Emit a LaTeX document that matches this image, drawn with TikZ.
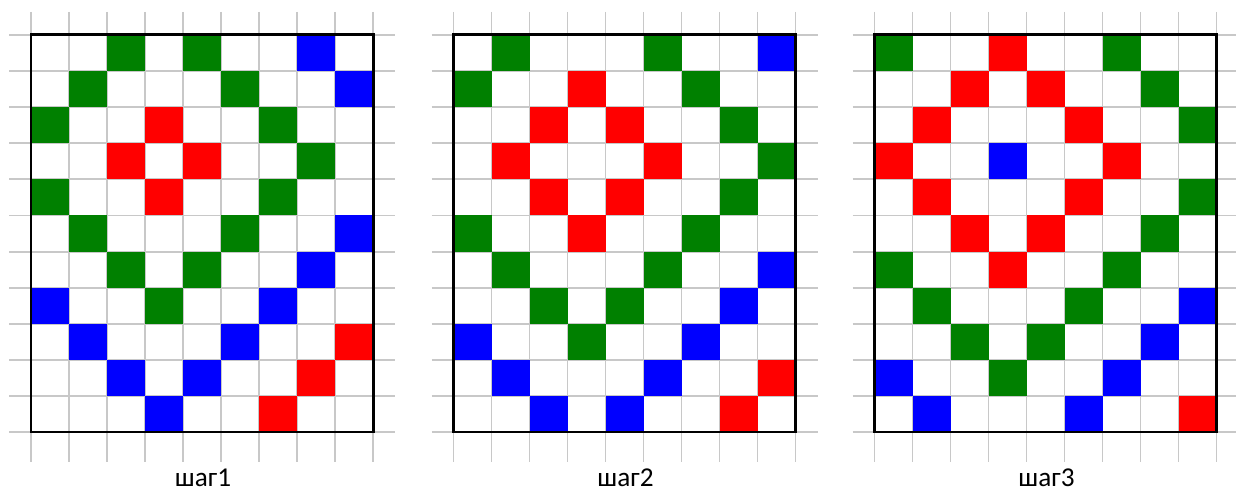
\documentclass[tikz,border=0pt]{standalone}
\usepackage{fontspec}
\setmainfont{Carlito}
\usetikzlibrary{positioning}
\definecolor{CellGreen}{HTML}{008000}
\definecolor{CellRed}{HTML}{FF0000}
\definecolor{CellBlue}{HTML}{0000FF}
\definecolor{GridGray}{HTML}{C8C8C8}

\begin{document}
\begin{tikzpicture}[
  x=0.02cm,y=-0.02cm,
  gridline/.style={draw=GridGray,line width=1.1pt},
  frame/.style={draw=black,line width=1.7pt},
  steplabel/.style={anchor=base,font=\fontsize{15.5}{18}\selectfont,inner sep=0pt,text depth=0pt},
  G/.style={fill=CellGreen},
  R/.style={fill=CellRed},
  B/.style={fill=CellBlue}
]
\useasboundingbox (0,0) rectangle (1236,492);

% step 1
\begin{scope}[shift={(31,35)}]
  \foreach \i in {0,...,9} \draw[gridline] (\i*38,-23) -- (\i*38,427);
  \foreach \j in {0,...,11} \draw[gridline] (-22,\j*36.1) -- (364,\j*36.1);
  \foreach \c/\r/\k in {2/0/G,4/0/G,7/0/B, 1/1/G,5/1/G,8/1/B, 0/2/G,3/2/R,6/2/G,
      2/3/R,4/3/R,7/3/G, 0/4/G,3/4/R,6/4/G, 1/5/G,5/5/G,8/5/B, 2/6/G,4/6/G,7/6/B,
      0/7/B,3/7/G,6/7/B, 1/8/B,5/8/B,8/8/R, 2/9/B,4/9/B,7/9/R, 3/10/B,6/10/R}
    \path[\k] (\c*38,\r*36.1) rectangle ++(38,36.1);
  \draw[frame] (0,0) rectangle (342,397);
\end{scope}
\node[steplabel] (step1) at (203,486) {шаг1};

% step 2
\begin{scope}[shift={(453.5,35)}]
  \foreach \i in {0,...,9} \draw[gridline] (\i*38,-23) -- (\i*38,427);
  \foreach \j in {0,...,11} \draw[gridline] (-22,\j*36.1) -- (364,\j*36.1);
  \foreach \c/\r/\k in {1/0/G,5/0/G,8/0/B, 0/1/G,3/1/R,6/1/G, 2/2/R,4/2/R,7/2/G,
      1/3/R,5/3/R,8/3/G, 2/4/R,4/4/R,7/4/G, 0/5/G,3/5/R,6/5/G, 1/6/G,5/6/G,8/6/B,
      2/7/G,4/7/G,7/7/B, 0/8/B,3/8/G,6/8/B, 1/9/B,5/9/B,8/9/R, 2/10/B,4/10/B,7/10/R}
    \path[\k] (\c*38,\r*36.1) rectangle ++(38,36.1);
  \draw[frame] (0,0) rectangle (342,397);
\end{scope}
\node[steplabel] (step2) at (625.5,486) {шаг2};

% step 3
\begin{scope}[shift={(874.5,35)}]
  \foreach \i in {0,...,9} \draw[gridline] (\i*38,-23) -- (\i*38,427);
  \foreach \j in {0,...,11} \draw[gridline] (-22,\j*36.1) -- (364,\j*36.1);
  \foreach \c/\r/\k in {0/0/G,3/0/R,6/0/G, 2/1/R,4/1/R,7/1/G, 1/2/R,5/2/R,8/2/G,
      0/3/R,3/3/B,6/3/R, 1/4/R,5/4/R,8/4/G, 2/5/R,4/5/R,7/5/G, 0/6/G,3/6/R,6/6/G,
      1/7/G,5/7/G,8/7/B, 2/8/G,4/8/G,7/8/B, 0/9/B,3/9/G,6/9/B, 1/10/B,5/10/B,8/10/R}
    \path[\k] (\c*38,\r*36.1) rectangle ++(38,36.1);
  \draw[frame] (0,0) rectangle (342,397);
\end{scope}
\node[steplabel] (step3) at (1046.5,486) {шаг3};
\end{tikzpicture}
\end{document}
